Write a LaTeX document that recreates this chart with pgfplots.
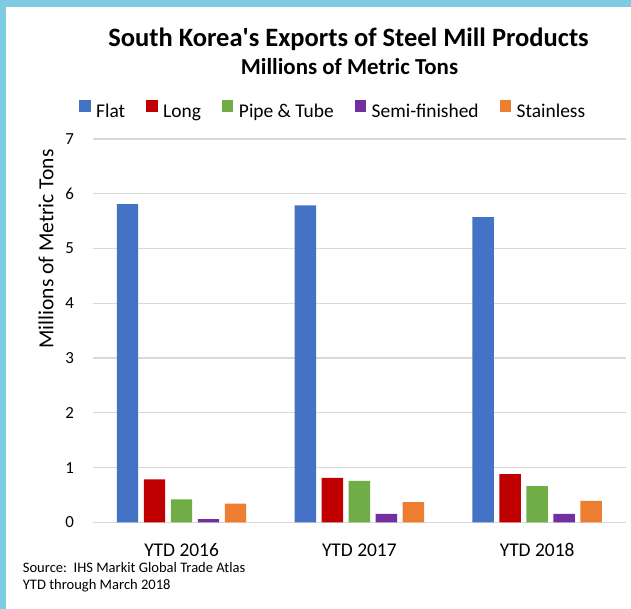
\documentclass[border=0pt]{standalone}
\usepackage{fontspec}
\setmainfont{Carlito}[Ligatures=TeXOff]
\usepackage{pgfplots}
\pgfplotsset{compat=1.18}

\definecolor{flat}{HTML}{4472C4}
\definecolor{long}{HTML}{C00000}
\definecolor{pipe}{HTML}{70AD47}
\definecolor{semi}{HTML}{7030A0}
\definecolor{stainless}{HTML}{ED7D31}
\definecolor{gridgray}{HTML}{D9D9D9}
\definecolor{framecyan}{RGB}{126,203,227}

\begin{document}
\begin{tikzpicture}
% page frame, in pixel units of the reference (y downwards)
\path[use as bounding box, fill=white] (0,0) rectangle (631bp,-609bp);
\fill[framecyan] (0,0) rectangle (6bp,-609bp);
\fill[framecyan] (0,0) rectangle (631bp,-7bp);

\node[anchor=base, inner sep=0pt, font=\bfseries\fontsize{26.6}{30}\selectfont]
  at (348.5bp,-46.7bp) {South Korea's Exports of Steel Mill Products};
\node[anchor=base, inner sep=0pt, font=\bfseries\fontsize{23}{27}\selectfont]
  at (349.5bp,-74.3bp) {Millions of Metric Tons};

\begin{axis}[
  at={(92.7bp,-522.3bp)}, anchor=south west,
  scale only axis, width=533.3bp, height=383.3bp,
  ybar=5.7bp, bar width=21.3bp,
  xmin=-0.5, xmax=2.5, ymin=0, ymax=7,
  xtick={0,1,2}, xticklabels={YTD 2016,YTD 2017,YTD 2018},
  ytick={0,1,...,7},
  axis line style={draw=none},
  tick style={draw=none},
  ymajorgrids,
  grid style={gridgray, line width=1.2bp},
  /pgf/number format/assume math mode=true,
  yticklabel style={font=\fontsize{17}{20}\selectfont, inner sep=0pt, xshift=-18.5bp},
  xticklabel style={font=\fontsize{19.5}{22}\selectfont, anchor=base, inner sep=0pt, yshift=-30bp},
  ylabel={Millions of Metric Tons},
  ylabel style={font=\fontsize{21.6}{25}\selectfont, at={(axis description cs:-0.0739,0.713)}, anchor=base, inner sep=0pt},
  legend columns=5,
  legend image code/.code={\fill[#1,draw=none] (0bp,-0.2bp) rectangle (11.5bp,11.5bp);},
  legend style={draw=none, fill=none, inner sep=0pt,
    at={(axis description cs:-0.0257,1.0757)}, anchor=west,
    font=\fontsize{19.5}{23}\selectfont,
    nodes={inner sep=0pt},
    /tikz/every odd column/.append style={column sep=5.5bp},
    /tikz/every even column/.append style={column sep=21bp}},
]
\addplot[fill=flat, draw=none] coordinates {(0,5.81) (1,5.79) (2,5.575)};
\addlegendentry{Flat}
\addplot[fill=long, draw=none] coordinates {(0,0.785) (1,0.81) (2,0.88)};
\addlegendentry{Long}
\addplot[fill=pipe, draw=none] coordinates {(0,0.42) (1,0.755) (2,0.66)};
\addlegendentry{Pipe \& Tube}
\addplot[fill=semi, draw=none] coordinates {(0,0.06) (1,0.155) (2,0.155)};
\addlegendentry{Semi-finished}
\addplot[fill=stainless, draw=none] coordinates {(0,0.34) (1,0.37) (2,0.39)};
\addlegendentry{Stainless}
\end{axis}

\node[anchor=base west, inner sep=0pt, font=\fontsize{14.6}{18}\selectfont]
  at (22.7bp,-572bp) {Source:\ \ IHS Markit Global Trade Atlas};
\node[anchor=base west, inner sep=0pt, font=\fontsize{14.6}{18}\selectfont]
  at (22.7bp,-589bp) {YTD through March 2018};
\end{tikzpicture}
\end{document}
